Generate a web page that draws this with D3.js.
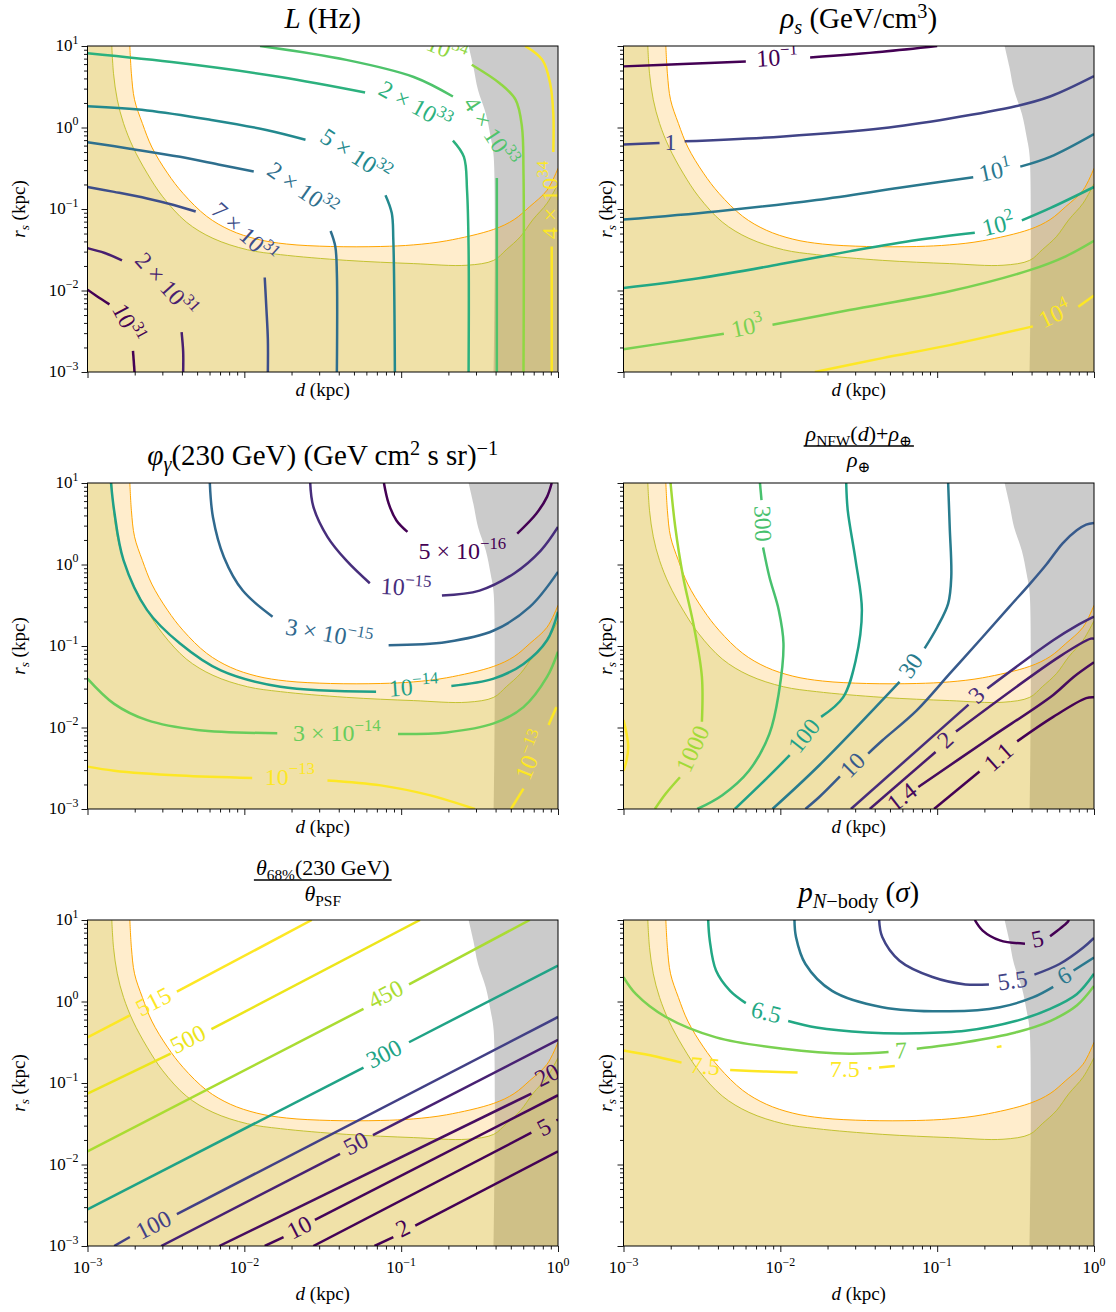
<!DOCTYPE html>
<html>
<head>
<meta charset="utf-8">
<script src="https://cdn.jsdelivr.net/npm/d3@7"></script>
<style>
  body { margin: 0; background: #fff; }
  text { font-family: "Liberation Serif", "DejaVu Serif", serif; }
</style>
</head>
<body>
<div id="chart"></div>
<script>
// all curve points are [log10 d (kpc), log10 r_s (kpc)]

// excluded regions, same in every panel
var orangeEdge = [[-2.73,1],[-2.72,0.66],[-2.70,0.34],[-2.65,0.05],[-2.59,-0.24],[-2.49,-0.56],[-2.39,-0.81],[-2.24,-1.09],[-2.09,-1.26],[-1.92,-1.37],[-1.73,-1.43],[-1.45,-1.46],[-1.13,-1.46],[-0.92,-1.44],[-0.71,-1.39],[-0.41,-1.25],[-0.28,-1.13],[-0.18,-0.97],[-0.07,-0.77],[0,-0.50]];
var oliveEdge = [[-2.845,1],[-2.834,0.66],[-2.81,0.34],[-2.77,0.05],[-2.71,-0.24],[-2.62,-0.56],[-2.52,-0.85],[-2.37,-1.16],[-2.20,-1.36],[-1.98,-1.50],[-1.77,-1.56],[-1.35,-1.63],[-0.92,-1.67],[-0.58,-1.69],[-0.41,-1.63],[-0.33,-1.50],[-0.24,-1.34],[-0.16,-1.13],[-0.07,-0.93],[0,-0.69]];
var grayEdge = [[-0.57,1],[-0.54,0.75],[-0.51,0.46],[-0.46,0.17],[-0.43,-0.11],[-0.41,-0.36],[-0.41,-3]];

var dTicks = [1e-3, 1e-2, 1e-1, 1];
var dTickText = ["10^{−3}", "10^{−2}", "10^{−1}", "10^{0}"];
var rTicks = [1e-3, 1e-2, 1e-1, 1, 10];
var rTickText = ["10^{−3}", "10^{−2}", "10^{−1}", "10^{0}", "10^{1}"];

// L (Hz)
var lumLevels = [1e31, 2e31, 7e31, 2e32, 5e32, 2e33, 4e33, 1e34, 4e34];
var lumTags = ["10^{31}", "2 × 10^{31}", "7 × 10^{31}", "2 × 10^{32}", "5 × 10^{32}", "2 × 10^{33}", "4 × 10^{33}", "10^{34}", "4 × 10^{34}"];
var lumLines = [
  {lev:0, segs:[[[-3,-1.99],[-2.94,-2.07],[-2.86,-2.17]], [[-2.71,-2.74],[-2.70,-3]]], labs:[[-2.74,-2.40,62]]},
  {lev:1, segs:[[[-3,-1.48],[-2.89,-1.54],[-2.78,-1.63]], [[-2.40,-2.51],[-2.39,-2.75],[-2.39,-3]]], labs:[[-2.50,-1.93,48]]},
  {lev:2, segs:[[[-3,-0.73],[-2.83,-0.79],[-2.62,-0.87],[-2.45,-0.95],[-2.31,-1.03]], [[-1.87,-1.84],[-1.86,-2.2],[-1.85,-2.6],[-1.85,-3]]], labs:[[-2.00,-1.29,42]]},
  {lev:3, segs:[[[-3,-0.18],[-2.73,-0.26],[-2.41,-0.36],[-2.15,-0.46],[-1.94,-0.54]], [[-1.45,-1.27],[-1.42,-1.46],[-1.41,-1.79],[-1.41,-3]]], labs:[[-1.63,-0.76,35]]},
  {lev:4, segs:[[[-3,0.26],[-2.62,0.21],[-2.20,0.09],[-1.86,-0.03],[-1.61,-0.15]], [[-1.10,-0.83],[-1.06,-1.05],[-1.05,-1.38],[-1.04,-3]]], labs:[[-1.29,-0.34,33]]},
  {lev:5, segs:[[[-3,0.91],[-2.41,0.79],[-1.77,0.62],[-1.23,0.43]], [[-0.67,-0.16],[-0.60,-0.36],[-0.58,-0.77],[-0.57,-1.5],[-0.57,-3]]], labs:[[-0.91,0.27,29]]},
  {lev:6, segs:[[[-1.90,1],[-1.35,0.83],[-0.92,0.62],[-0.67,0.38]], [[-0.39,-0.62],[-0.39,-1.38],[-0.39,-3]]], labs:[[-0.43,-0.05,57]]},
  {lev:7, segs:[[[-0.55,0.77],[-0.37,0.54],[-0.27,0.34],[-0.23,0.01],[-0.22,-0.56],[-0.22,-3]]], labs:[[-0.71,0.96,22]]},
  {lev:8, segs:[[[-0.21,1],[-0.10,0.83],[-0.05,0.54],[-0.03,0.17],[-0.03,-0.30]], [[-0.04,-1.46],[-0.04,-3]]], labs:[[-0.05,-0.89,-90]]}
];

// rho_s (GeV/cm^3)
var rhoLevels = [0.1, 1, 10, 100, 1000, 1e4];
var rhoTags = ["10^{−1}", "1", "10^{1}", "10^{2}", "10^{3}", "10^{4}"];
var rhoLines = [
  {lev:0, segs:[[[-3,0.75],[-2.62,0.78],[-2.22,0.81]], [[-1.81,0.86],[-1.35,0.93],[-1.0,1.0]]], labs:[[-2.02,0.86,-3]]},
  {lev:1, segs:[[[-3,-0.21],[-2.77,-0.19]], [[-2.61,-0.17],[-1.98,-0.11],[-1.35,-0.01],[-0.92,0.11],[-0.50,0.26],[-0.28,0.38],[0,0.63]]], labs:[[-2.70,-0.17,0]]},
  {lev:2, segs:[[[-3,-1.13],[-2.41,-1.03],[-1.77,-0.89],[-1.24,-0.74],[-0.77,-0.61]], [[-0.47,-0.48],[-0.28,-0.36],[0,-0.08]]], labs:[[-0.63,-0.53,-12]]},
  {lev:3, segs:[[[-3,-1.97],[-2.52,-1.85],[-1.98,-1.67],[-1.56,-1.52],[-1.13,-1.38],[-0.76,-1.29]], [[-0.46,-1.14],[-0.28,-0.99],[0,-0.73]]], labs:[[-0.61,-1.19,-14]]},
  {lev:4, segs:[[[-3,-2.72],[-2.62,-2.61],[-2.36,-2.53]], [[-2.05,-2.42],[-1.56,-2.24],[-0.92,-2.01],[-0.41,-1.75],[-0.18,-1.58],[0,-1.39]]], labs:[[-2.21,-2.44,-12]]},
  {lev:5, segs:[[[-1.78,-3],[-1.35,-2.83],[-0.92,-2.67],[-0.39,-2.44]], [[-0.10,-2.20],[0,-2.06]]], labs:[[-0.25,-2.29,-25]]}
];

// phi_gamma(230 GeV)
var phiLevels = [5e-16, 1e-15, 3e-15, 1e-14, 3e-14, 1e-13];
var phiTags = ["5 × 10^{−16}", "10^{−15}", "3 × 10^{−15}", "10^{−14}", "3 × 10^{−14}", "10^{−13}"];
var phiLines = [
  {lev:0, segs:[[[-1.11,1],[-1.08,0.75],[-1.03,0.54],[-0.96,0.40]], [[-0.26,0.38],[-0.14,0.62],[-0.07,0.83],[-0.04,1]]], labs:[[-0.61,0.17,0]]},
  {lev:1, segs:[[[-1.58,1],[-1.56,0.71],[-1.47,0.34],[-1.35,0.05],[-1.20,-0.23]], [[-0.74,-0.38],[-0.50,-0.32],[-0.28,-0.11],[-0.11,0.17],[0,0.46]]], labs:[[-0.97,-0.28,4]]},
  {lev:2, segs:[[[-2.22,1],[-2.20,0.58],[-2.13,0.09],[-2.01,-0.32],[-1.82,-0.64]], [[-1.08,-0.99],[-0.71,-0.95],[-0.41,-0.81],[-0.18,-0.52],[0,-0.09]]], labs:[[-1.46,-0.85,10]]},
  {lev:3, segs:[[[-2.85,1],[-2.83,0.66],[-2.77,0.05],[-2.62,-0.56],[-2.41,-0.97],[-2.15,-1.30],[-1.77,-1.50],[-1.16,-1.56]], [[-0.68,-1.49],[-0.41,-1.40],[-0.22,-1.22],[-0.07,-0.93],[0,-0.58]]], labs:[[-0.92,-1.50,-4]]},
  {lev:4, segs:[[[-3,-1.40],[-2.83,-1.71],[-2.62,-1.91],[-2.30,-2.03],[-1.79,-2.07]], [[-1.02,-2.08],[-0.71,-2.06],[-0.41,-1.95],[-0.22,-1.75],[-0.07,-1.38],[0,-1.07]]], labs:[[-1.41,-2.07,0]]},
  {lev:5, segs:[[[-3,-2.48],[-2.83,-2.53],[-2.41,-2.59],[-1.95,-2.62]], [[-1.47,-2.65],[-1.13,-2.71],[-0.82,-2.83],[-0.53,-3]]], labs:[[-1.71,-2.60,0]]},
  {lev:5, segs:[[[-0.30,-3],[-0.22,-2.75]], [[-0.06,-1.97],[-0.01,-1.75]]], labs:[[-0.17,-2.34,-68]]}
];

// (rho_NFW(d) + rho_earth) / rho_earth
var nfwLevels = [1.1, 1.4, 2, 3, 10, 30, 100, 300, 1000, 3000];
var nfwTags = ["1.1", "1.4", "2", "3", "10", "30", "100", "300", "1000", ""];
var nfwLines = [
  {lev:0, segs:[[[-1.02,-3],[-0.73,-2.54]], [[-0.49,-2.17],[-0.26,-1.87],[-0.05,-1.64],[0,-1.63]]], labs:[[-0.61,-2.36,-42]]},
  {lev:1, segs:[[[-1.12,-2.73],[-0.68,-2.15],[-0.26,-1.60],[-0.13,-1.38],[0,-1.20]]], labs:[[-1.225,-2.85,-38]]},
  {lev:2, segs:[[[-1.43,-3],[-1.01,-2.30]], [[-0.88,-2.05],[-0.22,-1.13],[-0.02,-0.91],[0,-0.91]]], labs:[[-0.95,-2.15,-43]]},
  {lev:3, segs:[[[-1.55,-3],[-0.80,-1.72]], [[-0.68,-1.52],[-0.26,-0.93],[-0.11,-0.75],[0,-0.64]]], labs:[[-0.75,-1.60,-43]]},
  {lev:4, segs:[[[0,0.51],[-0.05,0.49],[-0.11,0.42],[-0.20,0.26],[-0.30,0.01],[-0.41,-0.24],[-0.54,-0.52],[-0.71,-0.89],[-0.92,-1.34],[-1.13,-1.79],[-1.35,-2.16],[-1.44,-2.32]], [[-1.62,-2.60],[-1.75,-2.85],[-1.84,-3]]], labs:[[-1.54,-2.46,-45]]},
  {lev:5, segs:[[[-0.93,1],[-0.92,0.46],[-0.91,-0.15],[-0.93,-0.48],[-1.00,-0.77],[-1.08,-1.03]], [[-1.24,-1.44],[-1.75,-2.46],[-2.05,-3]]], labs:[[-1.17,-1.24,-56]]},
  {lev:6, segs:[[[-1.58,1],[-1.57,0.66],[-1.52,0.05],[-1.48,-0.56],[-1.52,-1.18],[-1.60,-1.63],[-1.74,-1.87]], [[-1.94,-2.34],[-2.09,-2.63],[-2.29,-3]]], labs:[[-1.85,-2.10,-52]]},
  {lev:7, segs:[[[-2.13,1],[-2.12,0.79]], [[-2.11,0.21],[-2.07,-0.15],[-2.01,-0.56],[-1.98,-0.97],[-2.01,-1.58],[-2.07,-2.08],[-2.20,-2.53],[-2.37,-2.83],[-2.53,-3]]], labs:[[-2.11,0.50,88]]},
  {lev:8, segs:[[[-2.70,1],[-2.67,0.46],[-2.62,-0.15],[-2.55,-0.77],[-2.50,-1.38],[-2.50,-1.93]], [[-2.64,-2.61],[-2.73,-2.81],[-2.80,-3]]], labs:[[-2.56,-2.26,-65]]},
  {lev:9, segs:[[[-3,-1.91],[-2.98,-2.08],[-2.97,-2.24],[-2.98,-2.40],[-3,-2.53]]], labs:[]}
];

// theta_68%(230 GeV) / theta_PSF
var psfLevels = [2, 5, 10, 20, 50, 100, 300, 450, 500, 515];
var psfTags = ["2", "5", "10", "20", "50", "100", "300", "450", "500", "515"];
var psfLines = [
  {lev:0, segs:[[[-1.17,-3],[-1.05,-2.89]], [[-0.91,-2.75],[0,-1.84]]], labs:[[-0.99,-2.78,-27]]},
  {lev:1, segs:[[[-1.56,-3],[-0.17,-1.61]], [[-0.01,-1.46],[0,-1.45]]], labs:[[-0.09,-1.54,-27]]},
  {lev:2, segs:[[[-1.87,-3],[-1.75,-2.89]], [[-1.55,-2.68],[0,-1.15]]], labs:[[-1.65,-2.77,-27]]},
  {lev:3, segs:[[[-2.16,-3],[-0.17,-1.13]]], labs:[[-0.07,-0.90,-27]]},
  {lev:4, segs:[[[-2.53,-3],[-1.39,-1.87]], [[-1.18,-1.64],[0,-0.47]]], labs:[[-1.29,-1.74,-27]]},
  {lev:5, segs:[[[-2.83,-3],[-2.73,-2.89]], [[-2.43,-2.61],[0,-0.19]]], labs:[[-2.58,-2.74,-27]]},
  {lev:6, segs:[[[-3,-2.55],[-1.24,-0.81]], [[-0.95,-0.50],[0,0.44]]], labs:[[-1.11,-0.64,-27]]},
  {lev:7, segs:[[[-3,-1.84],[-1.24,-0.09]], [[-0.95,0.21],[-0.18,1]]], labs:[[-1.10,0.09,-27]]},
  {lev:8, segs:[[[-3,-1.13],[-2.47,-0.64]], [[-2.21,-0.34],[-0.88,1]]], labs:[[-2.36,-0.46,-27]]},
  {lev:9, segs:[[[-3,-0.44],[-2.73,-0.17]], [[-2.43,0.12],[-1.57,1]]], labs:[[-2.58,0.00,-27]]}
];

// p_{N-body} (sigma)
var nbLevels = [5, 5.5, 6, 6.5, 7, 7.5];
var nbTags = ["5", "5.5", "6", "6.5", "7", "7.5"];
var nbLines = [
  {lev:0, segs:[[[-0.76,1],[-0.71,0.87],[-0.60,0.75],[-0.44,0.71]], [[-0.28,0.80],[-0.17,0.97],[-0.16,1]]], labs:[[-0.36,0.77,-12]]},
  {lev:1, segs:[[[-1.37,1],[-1.35,0.79],[-1.24,0.50],[-1.03,0.30],[-0.82,0.21],[-0.67,0.21]], [[-0.38,0.33],[-0.22,0.46],[-0.07,0.66],[0,0.78]]], labs:[[-0.52,0.26,-8]]},
  {lev:2, segs:[[[-1.91,1],[-1.90,0.79],[-1.84,0.46],[-1.67,0.13],[-1.35,-0.07],[-0.92,-0.12],[-0.60,-0.07],[-0.39,0.05],[-0.26,0.18]], [[-0.13,0.38],[0,0.54]]], labs:[[-0.19,0.32,-30]]},
  {lev:3, segs:[[[-2.46,1],[-2.45,0.75],[-2.41,0.38],[-2.32,0.13],[-2.22,-0.02]], [[-1.95,-0.24],[-1.77,-0.32],[-1.45,-0.38],[-1.13,-0.39],[-0.82,-0.36],[-0.50,-0.24],[-0.28,-0.09],[-0.11,0.09],[0,0.34]]], labs:[[-2.09,-0.13,14]]},
  {lev:4, segs:[[[-3,0.30],[-2.92,0.09],[-2.73,-0.19],[-2.41,-0.44],[-1.98,-0.58],[-1.56,-0.64],[-1.31,-0.62]], [[-1.13,-0.58],[-0.82,-0.50],[-0.50,-0.38],[-0.28,-0.24],[-0.11,-0.05],[0,0.19]]], labs:[[-1.23,-0.60,-3]]},
  {lev:5, segs:[[[-3,-0.60],[-2.83,-0.66],[-2.63,-0.75]], [[-2.32,-0.84],[-2.09,-0.86],[-1.89,-0.87]], [[-1.44,-0.82],[-1.42,-0.82]], [[-1.37,-0.81],[-1.27,-0.79]], [[-0.62,-0.56],[-0.59,-0.55]]], labs:[[-2.48,-0.79,5],[-1.59,-0.82,0]]}
];

var W = 1116, H = 1312;
var pw = 470.5, ph = 326;
var colX = [87.5, 623.5], rowY = [46, 483, 920];

var panels = [
  {col:0, row:0, levels:lumLevels, tags:lumTags, lines:lumLines, norm:"log", title:"*L* (Hz)"},
  {col:1, row:0, levels:rhoLevels, tags:rhoTags, lines:rhoLines, norm:"log", title:"*ρ*_{*s*} (GeV/cm^{3})"},
  {col:0, row:1, levels:phiLevels, tags:phiTags, lines:phiLines, norm:"log", title:"*φ*_{*γ*}(230 GeV) (GeV cm^{2} s sr)^{−1}"},
  {col:1, row:1, levels:nfwLevels, tags:nfwTags, lines:nfwLines, norm:"log", num:"*ρ*_{NFW}(*d*)+*ρ*_{⊕}", den:"*ρ*_{⊕}", fy:[-42,-37,-16]},
  {col:0, row:2, levels:psfLevels, tags:psfTags, lines:psfLines, norm:"lin", num:"*θ*_{68%}(230 GeV)", den:"*θ*_{PSF}", fy:[-45,-40,-19]},
  {col:1, row:2, levels:nbLevels, tags:nbTags, lines:nbLines, norm:"lin", title:"*p*_{*N*−body} (*σ*)"}
];

var svg = d3.select("#chart").append("svg").attr("width", W).attr("height", H);

// tiny markup: ^{..} superscript, _{..} subscript, *..* italic
function parseTex(s) {
  var parts = [], re = /\^\{([^}]*)\}|_\{([^}]*)\}|([^^_]+)/g, m;
  while ((m = re.exec(s))) {
    var kind = m[1] != null ? "sup" : (m[2] != null ? "sub" : "base");
    var str = m[1] != null ? m[1] : (m[2] != null ? m[2] : m[3]);
    str.split("*").forEach(function(t, i) { if (t) parts.push({t:t, kind:kind, it:i % 2 === 1}); });
  }
  return parts;
}

function rich(sel, s, fs, supShift) {
  var t = sel.append("text").attr("font-size", fs).style("white-space", "pre");
  var cur = 0, up = supShift || 0.42;
  parseTex(s).forEach(function(p) {
    var size = p.kind === "base" ? fs : fs * 0.7;
    var off = p.kind === "sup" ? -up * fs : (p.kind === "sub" ? 0.22 * fs : 0);
    t.append("tspan").attr("font-size", size).attr("dy", off - cur)
      .attr("font-style", p.it ? "italic" : null).text(p.t);
    cur = off;
  });
  return t;
}

function minorTicks(lo, hi) {
  var out = [];
  for (var e = lo; e < hi; e++) for (var k = 2; k <= 9; k++) out.push(k * Math.pow(10, e));
  return out;
}

var labelSize = 24;

panels.forEach(function(p, pi) {
  var g = svg.append("g").attr("transform", "translate(" + colX[p.col] + "," + rowY[p.row] + ")");
  var x = d3.scaleLog().domain([1e-3, 1]).range([0, pw]);
  var y = d3.scaleLog().domain([1e-3, 10]).range([ph, 0]);
  var px = function(q) { return x(Math.pow(10, q[0])); };
  var py = function(q) { return y(Math.pow(10, q[1])); };
  var color = p.norm === "log"
    ? d3.scaleSequentialLog(d3.interpolateViridis).domain(d3.extent(p.levels))
    : d3.scaleSequential(d3.interpolateViridis).domain(d3.extent(p.levels));

  var clipId = "clip" + pi;
  g.append("clipPath").attr("id", clipId).append("rect").attr("width", pw).attr("height", ph);
  var plot = g.append("g").attr("clip-path", "url(#" + clipId + ")");

  var curve = d3.line().x(px).y(py).curve(d3.curveCatmullRom);
  var orangeArea = curve(orangeEdge) + "L" + pw + "," + ph + "L0," + ph + "L0,0Z";
  var oliveArea = curve(oliveEdge) + "L" + pw + "," + ph + "L0," + ph + "L0,0Z";

  plot.append("path").attr("d", curve(grayEdge) + "L" + pw + "," + ph + "L" + pw + ",0Z")
    .attr("fill", "#cbcbcb");
  plot.append("path").attr("d", orangeArea + oliveArea).attr("fill-rule", "evenodd")
    .attr("fill", "orange").attr("fill-opacity", 0.2);
  plot.append("path").attr("d", oliveArea).attr("fill", "rgb(214,174,21)").attr("fill-opacity", 0.373);
  plot.append("path").attr("d", curve(orangeEdge)).attr("fill", "none")
    .attr("stroke", "orange").attr("stroke-width", 1);
  plot.append("path").attr("d", curve(oliveEdge)).attr("fill", "none")
    .attr("stroke", "#bdbd22").attr("stroke-width", 0.9);

  // contour lines
  p.lines.forEach(function(ln) {
    var c = color(p.levels[ln.lev]);
    ln.segs.forEach(function(sg) {
      plot.append("path").attr("d", curve(sg)).attr("fill", "none")
        .attr("stroke", c).attr("stroke-width", 2.5).attr("stroke-linecap", "butt");
    });
    ln.labs.forEach(function(lb) {
      var lg = plot.append("g")
        .attr("transform", "translate(" + px(lb) + "," + py(lb) + ") rotate(" + lb[2] + ")");
      rich(lg, p.tags[ln.lev], labelSize).attr("text-anchor", "middle")
        .attr("y", labelSize * 0.34).attr("fill", c);
    });
  });

  // frame
  g.append("rect").attr("width", pw).attr("height", ph).attr("fill", "none")
    .attr("stroke", "black").attr("stroke-width", 1);

  // ticks
  var xa = g.append("g").attr("transform", "translate(0," + ph + ")");
  xa.append("g").call(d3.axisBottom(x).tickValues(dTicks).tickSize(6).tickFormat(""));
  xa.append("g").call(d3.axisBottom(x).tickValues(minorTicks(-3, 0)).tickSize(3.5).tickFormat(""));
  var ya = g.append("g");
  ya.append("g").call(d3.axisLeft(y).tickValues(rTicks).tickSize(6).tickFormat(""));
  ya.append("g").call(d3.axisLeft(y).tickValues(minorTicks(-3, 1)).tickSize(3.5).tickFormat(""));
  g.selectAll(".domain").remove();
  g.selectAll(".tick line").attr("stroke", "black").attr("stroke-width", 0.9);

  if (p.row === 2) {
    dTicks.forEach(function(v, i) {
      rich(g, dTickText[i], 17).attr("text-anchor", "middle").attr("x", x(v)).attr("y", ph + 27);
    });
  }
  if (p.col === 0) {
    rTicks.forEach(function(v, i) {
      rich(g, rTickText[i], 17).attr("text-anchor", "end").attr("x", -9).attr("y", y(v) + 5);
    });
  }

  // axis labels
  rich(g, "*d* (kpc)", 19).attr("text-anchor", "middle").attr("x", pw / 2)
    .attr("y", p.row === 2 ? ph + 54 : ph + 24);
  var yl = g.append("g").attr("transform", "translate(" + (p.col === 0 ? -63 : -12) + "," + (ph / 2) + ") rotate(-90)");
  rich(yl, "*r*_{*s*} (kpc)", 19).attr("text-anchor", "middle");

  // titles
  if (p.title) {
    rich(g, p.title, 29, 0.36).attr("text-anchor", "middle").attr("x", pw / 2).attr("y", -18);
  } else {
    var nt = rich(g, p.num, 22).attr("text-anchor", "middle").attr("x", pw / 2).attr("y", p.fy[0]);
    rich(g, p.den, 22).attr("text-anchor", "middle").attr("x", pw / 2).attr("y", p.fy[2]);
    var bw = nt.node().getComputedTextLength();
    g.append("line").attr("x1", pw / 2 - bw / 2 - 2).attr("x2", pw / 2 + bw / 2 + 2)
      .attr("y1", p.fy[1]).attr("y2", p.fy[1]).attr("stroke", "black").attr("stroke-width", 1.3);
  }
});
</script>
</body>
</html>
